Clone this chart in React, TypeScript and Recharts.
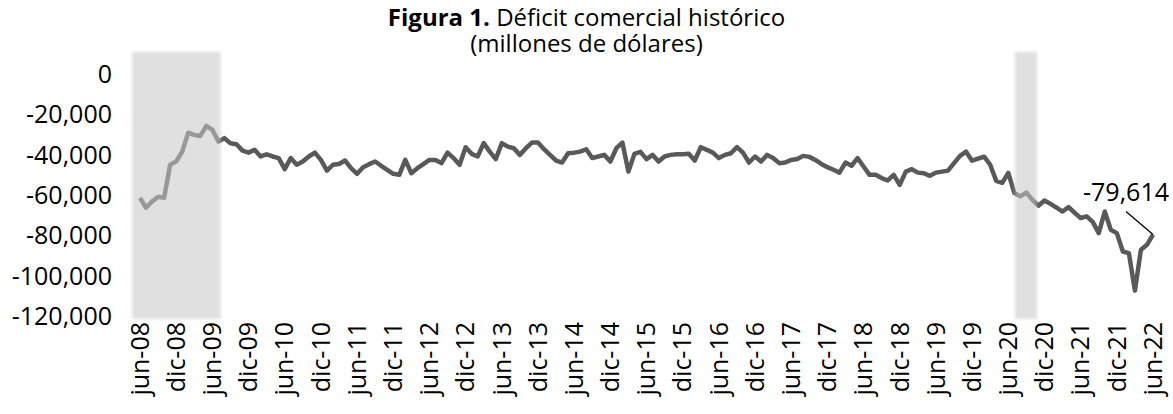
import React from 'react';
import { LineChart, Line, XAxis, YAxis, ReferenceArea, ReferenceDot } from 'recharts';

const FONT = "'Open Sans', 'Noto Sans', sans-serif";
const TICK_FONT_SIZE = 25;

const tickLabels = [
  'jun-08', 'dic-08', 'jun-09', 'dic-09', 'jun-10', 'dic-10', 'jun-11', 'dic-11',
  'jun-12', 'dic-12', 'jun-13', 'dic-13', 'jun-14', 'dic-14', 'jun-15', 'dic-15',
  'jun-16', 'dic-16', 'jun-17', 'dic-17', 'jun-18', 'dic-18', 'jun-19', 'dic-19',
  'jun-20', 'dic-20', 'jun-21', 'dic-21', 'jun-22',
];
const monthsPerTick = 6;
const tickPositions = tickLabels.map((_, k) => k * monthsPerTick);

const yTicks = [0, -20000, -40000, -60000, -80000, -100000, -120000];

// Monthly trade deficit, jun-08 .. jun-22 (millions of dollars)
const deficit = [
  -61400, -66300, -63200, -60900, -61400, -45000, -43400, -38500, -29100, -30200, -30700, -25700,
  -27700, -33500, -31800, -34300, -34800, -38000, -39000, -37600, -40900, -39800, -40900, -41700,
  -47200, -41700, -45000, -43400, -40900, -39000, -42600, -47900, -45000, -44600, -42900, -46700,
  -49500, -46200, -44700, -43400, -45500, -47500, -49500, -50000, -42600, -49200, -46700, -44700,
  -42600, -42600, -44200, -39000, -41700, -45000, -36300, -39600, -40900, -34300, -38500, -42200,
  -34300, -36000, -36800, -40100, -36800, -34000, -34000, -37300, -40100, -42900, -43900, -39300,
  -39000, -38500, -37300, -41700, -40900, -40100, -43400, -36800, -34000, -48400, -39600, -38600,
  -42200, -40100, -43400, -40900, -40100, -39800, -39800, -39600, -42900, -36300, -37600, -39000,
  -41700, -40100, -39300, -36300, -39000, -43900, -40900, -43400, -40100, -41700, -44200, -43900,
  -42600, -42200, -40600, -41100, -42600, -44600, -46200, -47500, -48900, -43900, -45500, -41700,
  -45900, -50000, -50000, -51600, -52800, -50000, -55000, -48400, -47200, -48900, -49200, -50500,
  -48900, -48400, -47900, -44200, -40600, -38500, -43000, -42000, -41000, -45000, -53000, -54000,
  -49000, -58900, -60700, -58800, -62400, -65300, -62700, -64400, -66300, -68200, -66000, -68800,
  -71400, -70600, -73300, -78900, -68200, -77200, -78900, -88000, -88800, -107400, -87100, -84700,
  -79614,
];

const lastIndex = deficit.length - 1;
const lastValue = deficit[lastIndex];

const recessions = [
  { x1: -1.3, x2: 13.4 },
  { x1: 145.1, x2: 148.8 },
];
const shadeTop = 11000;
const shadeBottom = -121500;

const data = deficit.map((v, i) => ({ i, v }));

const fmt = (v: number) => v.toLocaleString('en-US');

const TopTick = (props: any) => {
  const { x, y } = props;
  return <line x1={x} x2={x} y1={y} y2={y + 8} stroke="#d9d9d9" strokeWidth={1.5} />;
};

const BottomTick = (props: any) => {
  const { x, y, payload } = props;
  const label = tickLabels[Math.round(payload.value / monthsPerTick)];
  return (
    <text
      x={x}
      y={y}
      transform={`rotate(-90 ${x} ${y})`}
      textAnchor="end"
      dy="0.35em"
      fontSize={TICK_FONT_SIZE}
      fontFamily={FONT}
      fill="#000"
    >
      {label}
    </text>
  );
};

const ShadeShape = (p: any) => (
  <rect
    x={p.x}
    y={p.y}
    width={p.width}
    height={p.height}
    fill="rgb(201,201,201)"
    fillOpacity={0.57}
    style={{ filter: 'blur(1.5px)' }}
  />
);

const Annotation = (p: any) => {
  const { cx, cy } = p;
  return (
    <g>
      <line x1={cx - 27} y1={cy - 23} x2={cx} y2={cy} stroke="#000" strokeWidth={1.3} />
      <text
        x={cx - 27}
        y={cy - 42}
        textAnchor="middle"
        dy="0.35em"
        fontSize={TICK_FONT_SIZE}
        fontFamily={FONT}
        fill="#000"
      >
        {fmt(lastValue)}
      </text>
    </g>
  );
};

export default function App() {
  return (
    <div style={{ position: 'absolute', left: 0, top: 0, width: 1173, height: 414, background: '#fff' }}>
      <LineChart
        width={1173}
        height={414}
        data={data}
        margin={{ top: 74, right: 20, left: 0, bottom: 0 }}
        style={{ position: 'absolute', left: 0, top: 0 }}
      >
        <XAxis
          xAxisId="top"
          orientation="top"
          type="number"
          dataKey="i"
          domain={[0, lastIndex]}
          ticks={tickPositions}
          interval={0}
          height={0}
          tickSize={0}
          tickMargin={0}
          tickLine={false}
          axisLine={{ stroke: '#d9d9d9', strokeWidth: 1.5 }}
          tick={<TopTick />}
        />
        <XAxis
          xAxisId="bottom"
          orientation="bottom"
          type="number"
          dataKey="i"
          domain={[0, lastIndex]}
          ticks={tickPositions}
          interval={0}
          height={98}
          tickSize={0}
          tickMargin={6}
          tickLine={false}
          axisLine={false}
          tick={<BottomTick />}
        />
        <YAxis
          type="number"
          domain={[-120000, 0]}
          ticks={yTicks}
          interval={0}
          width={140}
          tickSize={0}
          tickMargin={28}
          tickLine={false}
          axisLine={false}
          tickFormatter={fmt}
          tick={{ fontSize: TICK_FONT_SIZE, fill: '#000', fontFamily: FONT }}
        />
        <Line
          xAxisId="bottom"
          type="linear"
          dataKey="v"
          stroke="#595959"
          strokeWidth={4.5}
          strokeLinejoin="round"
          dot={false}
          activeDot={false}
          isAnimationActive={false}
        />
        {recessions.map((r, k) => (
          <ReferenceArea
            key={k}
            xAxisId="bottom"
            x1={r.x1}
            x2={r.x2}
            y1={shadeTop}
            y2={shadeBottom}
            ifOverflow="visible"
            shape={<ShadeShape />}
            zIndex={450}
          />
        ))}
        <ReferenceDot
          xAxisId="bottom"
          x={lastIndex}
          y={lastValue}
          ifOverflow="visible"
          shape={<Annotation />}
          zIndex={460}
        />
      </LineChart>
      <div
        style={{
          position: 'absolute',
          left: 0,
          top: 4,
          width: 1173,
          textAlign: 'center',
          fontFamily: FONT,
          fontSize: 24,
          lineHeight: '26px',
          color: '#000',
          pointerEvents: 'none',
        }}
      >
        <div>
          <b>Figura 1.</b> Déficit comercial histórico
        </div>
        <div>(millones de dólares)</div>
      </div>
    </div>
  );
}
